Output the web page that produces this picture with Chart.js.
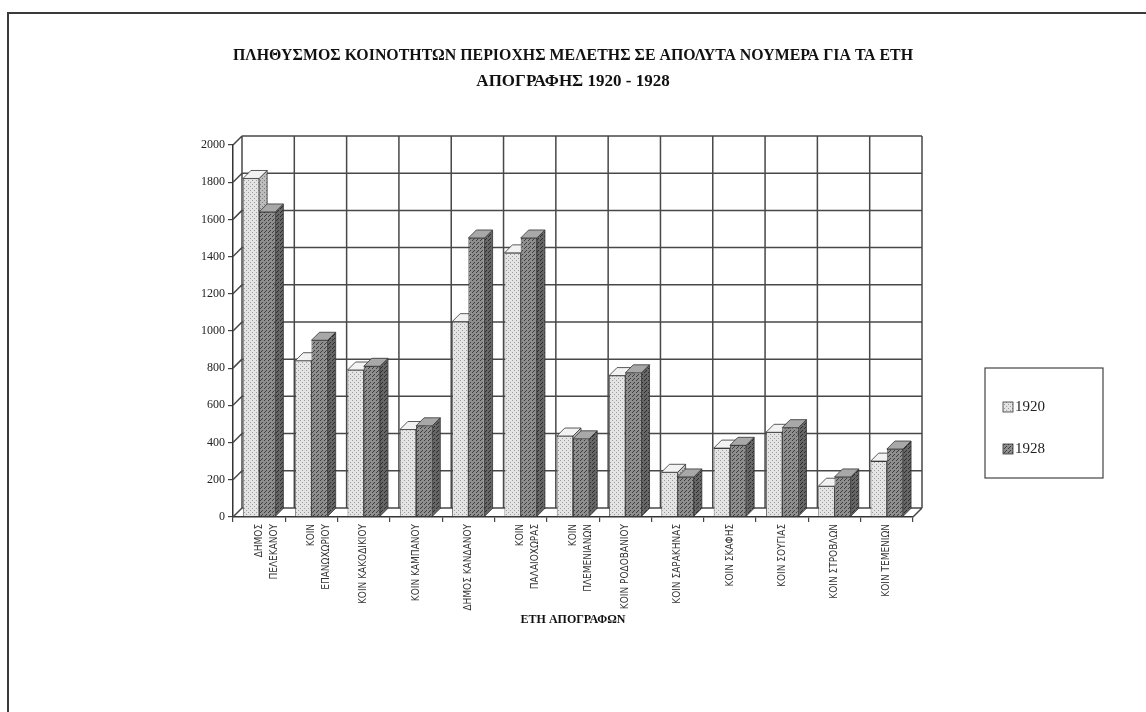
<!DOCTYPE html>
<html>
<head>
<meta charset="utf-8">
<script src="https://cdn.jsdelivr.net/npm/chart.js@4.4.1/dist/chart.umd.min.js"></script>
<style>
  html, body { margin: 0; padding: 0; background: #fff; }
  #wrap { position: relative; width: 1146px; height: 712px; overflow: hidden; }
  #frame { position: absolute; left: 7px; top: 12px; width: 1200px; height: 800px;
           border-top: 2px solid #3a3a3a; border-left: 2px solid #3a3a3a; }
  canvas { position: absolute; left: 0; top: 0; }
</style>
</head>
<body>
<div id="wrap">
  <div id="frame"></div>
  <canvas id="popChart" width="1146" height="712"></canvas>
</div>
<script>
// data
const categories = [
  ["ΔΗΜΟΣ", "ΠΕΛΕΚΑΝΟΥ"],
  ["ΚΟΙΝ", "ΕΠΑΝΩΧΩΡΙΟΥ"],
  "ΚΟΙΝ ΚΑΚΟΔΙΚΙΟΥ",
  "ΚΟΙΝ ΚΑΜΠΑΝΟΥ",
  "ΔΗΜΟΣ ΚΑΝΔΑΝΟΥ",
  ["ΚΟΙΝ", "ΠΑΛΑΙΟΧΩΡΑΣ"],
  ["ΚΟΙΝ", "ΠΛΕΜΕΝΙΑΝΩΝ"],
  "ΚΟΙΝ ΡΟΔΟΒΑΝΙΟΥ",
  "ΚΟΙΝ ΣΑΡΑΚΗΝΑΣ",
  "ΚΟΙΝ ΣΚΑΦΗΣ",
  "ΚΟΙΝ ΣΟΥΓΙΑΣ",
  "ΚΟΙΝ ΣΤΡΟΒΛΩΝ",
  "ΚΟΙΝ ΤΕΜΕΝΙΩΝ"
];
const pop1920 = [1820, 840, 790, 470, 1050, 1420, 435, 760, 240, 370, 455, 165, 300];
const pop1928 = [1640, 950, 810, 490, 1500, 1500, 420, 775, 215, 385, 480, 215, 365];
const seriesNames = ["1920", "1928"];
const yMin = 0, yMax = 2000, yStep = 200;

const DEPTH = 9;     // back wall offset
const BAR_D = 8;     // bar depth
const SERIF = "'Liberation Serif', 'Times New Roman', serif";

// dotted fills like the printed hatching
function makePattern(bg, fg, dots) {
  const c = document.createElement('canvas');
  c.width = 4; c.height = 4;
  const g = c.getContext('2d');
  g.fillStyle = bg; g.fillRect(0, 0, 4, 4);
  g.fillStyle = fg;
  dots.forEach(p => g.fillRect(p[0], p[1], 1, 1));
  return g.createPattern(c, 'repeat');
}
const fill1920 = makePattern('#e4e4e4', '#9c9c9c', [[0, 0], [2, 2]]);
const fill1928 = makePattern('#8e8e8e', '#3e3e3e', [[0, 0], [2, 2], [1, 3]]);
const side1920 = makePattern('#bdbdbd', '#7a7a7a', [[0, 0], [2, 2]]);
const side1928 = makePattern('#666', '#2c2c2c', [[0, 0], [2, 2], [1, 3]]);
const top1920 = '#f2f2f2';
const top1928 = '#a8a8a8';

function poly(ctx, pts, fill) {
  ctx.beginPath();
  ctx.moveTo(pts[0][0], pts[0][1]);
  for (let i = 1; i < pts.length; i++) ctx.lineTo(pts[i][0], pts[i][1]);
  ctx.closePath();
  ctx.fillStyle = fill;
  ctx.fill();
  ctx.stroke();
}

// back wall grid, left wall ticks, floor and bar tops / sides
const pseudo3d = {
  id: 'pseudo3d',
  beforeDatasetsDraw(chart) {
    const { ctx, chartArea: a, scales: { x, y } } = chart;
    ctx.save();
    ctx.strokeStyle = '#484848';
    ctx.lineWidth = 1.5;
    ctx.beginPath();
    y.ticks.forEach(t => {
      const py = y.getPixelForValue(t.value);
      ctx.moveTo(a.left, py);
      ctx.lineTo(a.left + DEPTH, py - DEPTH);
      ctx.moveTo(a.left + DEPTH, py - DEPTH);
      ctx.lineTo(a.right + DEPTH, py - DEPTH);
    });
    for (let i = 0; i <= categories.length; i++) {
      const px = x.getPixelForValue(i - 0.5) + DEPTH;
      ctx.moveTo(px, a.top - DEPTH);
      ctx.lineTo(px, a.bottom - DEPTH);
    }
    // floor right edge
    ctx.moveTo(a.right, a.bottom);
    ctx.lineTo(a.right + DEPTH, a.bottom - DEPTH);
    ctx.stroke();

    ctx.lineWidth = 0.8;
    ctx.strokeStyle = '#333';
    const tops = [top1920, top1928];
    const sides = [side1920, side1928];
    chart.data.datasets.forEach((ds, di) => {
      chart.getDatasetMeta(di).data.forEach(bar => {
        const p = bar.getProps(['x', 'y', 'base', 'width'], true);
        const l = p.x - p.width / 2, r = p.x + p.width / 2;
        poly(ctx, [[r, p.y], [r + BAR_D, p.y - BAR_D], [r + BAR_D, p.base - BAR_D], [r, p.base]], sides[di]);
        poly(ctx, [[l, p.y], [r, p.y], [r + BAR_D, p.y - BAR_D], [l + BAR_D, p.y - BAR_D]], tops[di]);
      });
    });
    ctx.restore();
  },
  afterDraw(chart) {
    // boxed legend on the right
    const ctx = chart.ctx;
    const bx = 985, by = 368, bw = 118, bh = 110;
    ctx.save();
    ctx.strokeStyle = '#444';
    ctx.lineWidth = 1.2;
    ctx.strokeRect(bx, by, bw, bh);
    ctx.font = '15px ' + SERIF;
    ctx.textBaseline = 'middle';
    chart.data.datasets.forEach((ds, i) => {
      const ly = by + 39 + i * 42;
      ctx.fillStyle = ds.backgroundColor;
      ctx.fillRect(bx + 18, ly - 5, 10, 10);
      ctx.strokeStyle = '#333';
      ctx.lineWidth = 0.8;
      ctx.strokeRect(bx + 18, ly - 5, 10, 10);
      ctx.fillStyle = '#222';
      ctx.fillText(ds.label, bx + 30, ly);
    });
    ctx.restore();
  }
};

const ctx = document.getElementById('popChart').getContext('2d');
const popChart = new Chart(ctx, {
  type: 'bar',
  data: {
    labels: categories,
    datasets: [
      { label: seriesNames[0], data: pop1920, backgroundColor: fill1920, borderColor: '#3a3a3a', borderWidth: 0.8 },
      { label: seriesNames[1], data: pop1928, backgroundColor: fill1928, borderColor: '#2a2a2a', borderWidth: 0.8 }
    ]
  },
  options: {
    responsive: false,
    animation: false,
    categoryPercentage: 0.62,
    barPercentage: 1.0,
    layout: { padding: { left: 198, right: 233, top: 43, bottom: 85 } },
    plugins: {
      legend: { display: false },
      tooltip: { enabled: false },
      title: {
        display: true,
        fullSize: false,
        text: ['ΠΛΗΘΥΣΜΟΣ ΚΟΙΝΟΤΗΤΩΝ ΠΕΡΙΟΧΗΣ ΜΕΛΕΤΗΣ ΣΕ ΑΠΟΛΥΤΑ ΝΟΥΜΕΡΑ ΓΙΑ ΤΑ ΕΤΗ', 'ΑΠΟΓΡΑΦΗΣ 1920 - 1928'],
        color: '#111',
        font: { family: SERIF, size: 17, weight: 'bold', lineHeight: 1.5 },
        padding: { top: 0, bottom: 51 }
      }
    },
    scales: {
      x: {
        grid: { display: true, drawOnChartArea: false, drawTicks: true, tickLength: 5, color: '#444', lineWidth: 1.2, offset: true },
        border: { display: true, color: '#333', width: 1.5 },
        ticks: {
          autoSkip: false, minRotation: 90, maxRotation: 90, padding: 2, color: '#333',
          font: { family: "'Liberation Sans Narrow', 'DejaVu Sans Condensed', sans-serif", size: 10, lineHeight: 1.5 }
        },
        title: {
          display: true, text: 'ΕΤΗ ΑΠΟΓΡΑΦΩΝ', color: '#111',
          font: { family: SERIF, size: 12, weight: 'bold' }, padding: { top: 0, bottom: 0 }
        }
      },
      y: {
        min: yMin, max: yMax,
        grid: { display: true, drawOnChartArea: false, drawTicks: true, tickLength: 5, color: '#444', lineWidth: 1.2 },
        border: { display: true, color: '#333', width: 1.5 },
        ticks: {
          stepSize: yStep, padding: 3, color: '#222', font: { family: SERIF, size: 12 },
          callback: v => String(v)
        }
      }
    }
  },
  plugins: [pseudo3d]
});
</script>
</body>
</html>
